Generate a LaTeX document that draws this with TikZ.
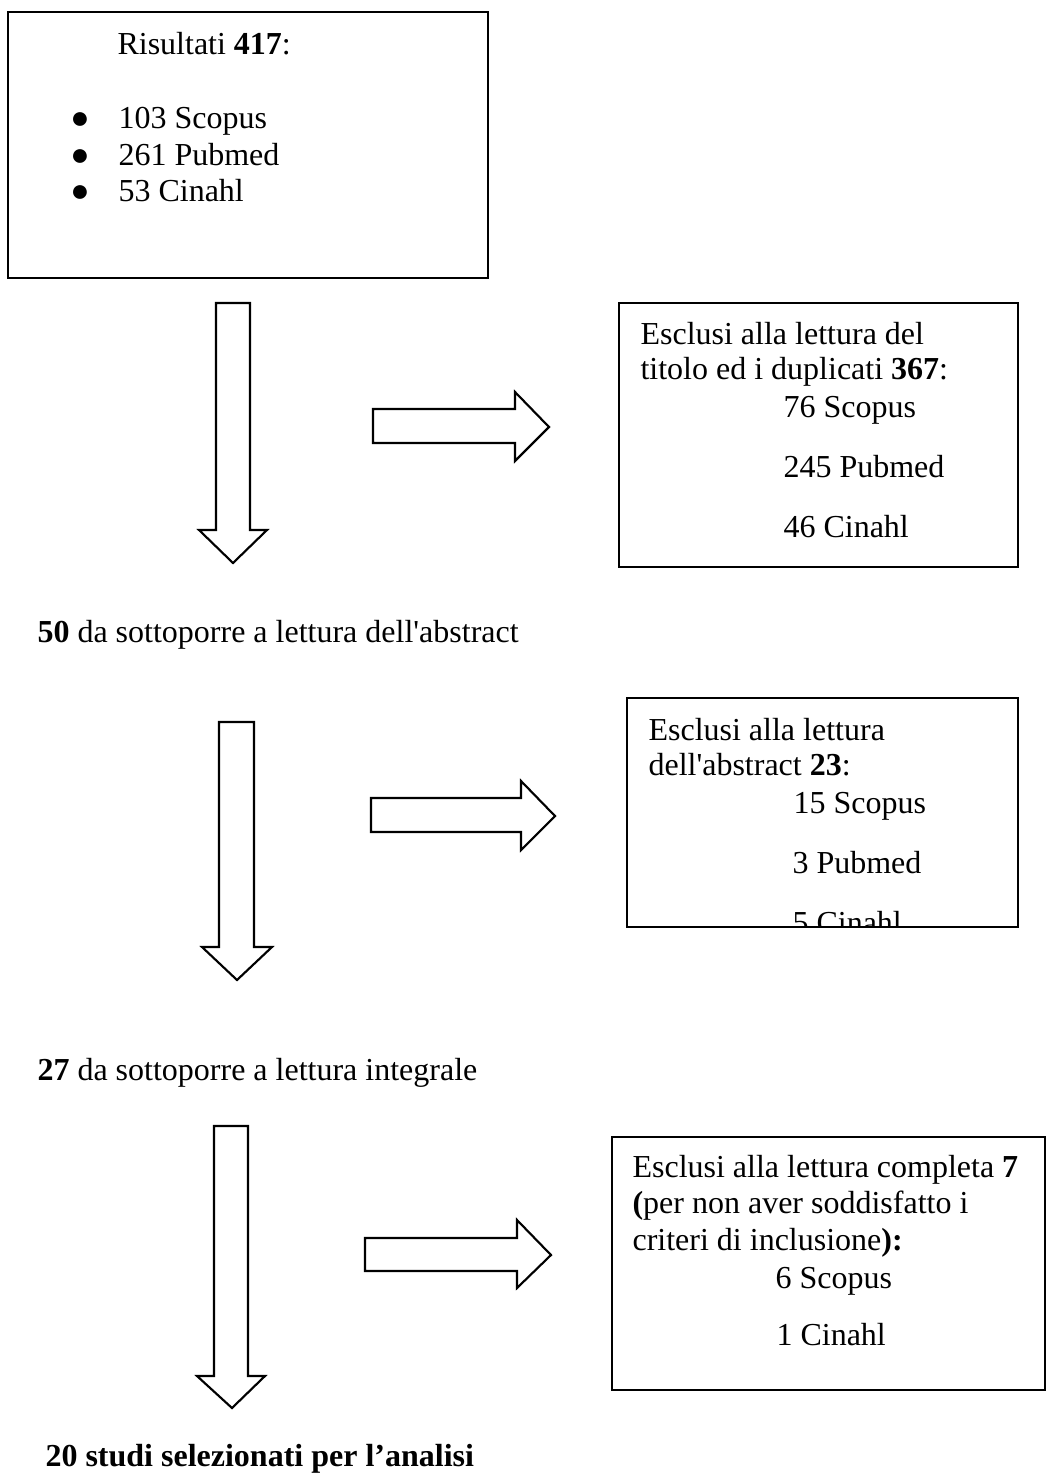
\documentclass[tikz,border=0pt]{standalone}
\usepackage{fontspec}
\setmainfont{Liberation Serif}

\begin{document}
\begin{tikzpicture}[x=0.375pt,y=-0.375pt]

%
% Styles
%
\tikzstyle{txt}        = [anchor=base west,inner sep=0pt,font=\fontsize{12}{14}\selectfont]
\tikzstyle{dot}        = [anchor=base,inner sep=0pt,font=\fontsize{12}{14}\selectfont]
\tikzstyle{box}        = [draw=black,line width=0.6pt]
\tikzstyle{thickbox}   = [draw=black,line width=1.1pt]
\tikzstyle{blockarrow} = [draw=black,line width=0.8pt,fill=white,line join=miter]

\useasboundingbox (0,0) rectangle (1046,1474);

% search results
\draw[thickbox] (8,12) rectangle (488,278);
\node[txt] (ris)  at (117, 55) {Risultati \textbf{417}:};
\node[dot] (b1)   at ( 80,129) {●};
\node[dot] (b2)   at ( 80,166) {●};
\node[dot] (b3)   at ( 80,202) {●};
\node[txt] (sc1)  at (118,129) {103 Scopus};
\node[txt] (pm1)  at (118,166) {261 Pubmed};
\node[txt] (ci1)  at (118,202) {53 Cinahl};

% first step
\draw[blockarrow] (216,303) -- (250,303) -- (250,530) -- (267,530) -- (233,563)
                  -- (199,530) -- (216,530) -- cycle;
\draw[blockarrow] (373,409) -- (515,409) -- (515,392) -- (549,427) -- (515,461)
                  -- (515,443) -- (373,443) -- cycle;
\draw[box] (619,303) rectangle (1018,567);
\node[txt] (ex1a) at (640,345) {Esclusi alla lettura del};
\node[txt] (ex1b) at (640,380) {titolo ed i duplicati \textbf{367}:};
\node[txt] (sc2)  at (783,418) {76 Scopus};
\node[txt] (pm2)  at (783,478) {245 Pubmed};
\node[txt] (ci2)  at (783,538) {46 Cinahl};

\node[txt] (abs)  at (37,643) {\textbf{50} da sottoporre a lettura dell\textquotesingle abstract};

% second step
\draw[blockarrow] (219,722) -- (254,722) -- (254,947) -- (272,947) -- (237,980)
                  -- (202,947) -- (219,947) -- cycle;
\draw[blockarrow] (371,798) -- (521,798) -- (521,781) -- (555,816) -- (521,850)
                  -- (521,832) -- (371,832) -- cycle;
\begin{scope}
  \clip (627,698) rectangle (1018,927);
  \node[txt] (ex2a) at (648,740) {Esclusi alla lettura};
  \node[txt] (ex2b) at (648,775) {dell\textquotesingle abstract \textbf{23}:};
  \node[txt] (sc3)  at (793,813) {15 Scopus};
  \node[txt] (pm3)  at (792,873) {3 Pubmed};
  \node[txt] (ci3)  at (792,933) {5 Cinahl};
\end{scope}
\draw[box] (627,698) rectangle (1018,927);

\node[txt] (integ) at (37,1080) {\textbf{27} da sottoporre a lettura integrale};

% third step
\draw[blockarrow] (214,1126) -- (248,1126) -- (248,1376) -- (265,1376) -- (232,1408)
                  -- (197,1376) -- (214,1376) -- cycle;
\draw[blockarrow] (365,1238) -- (517,1238) -- (517,1220) -- (551,1255) -- (517,1288)
                  -- (517,1271) -- (365,1271) -- cycle;
\draw[box] (612,1137) rectangle (1045,1390);
\node[txt] (ex3a) at (632,1177) {Esclusi alla lettura completa \textbf{7}};
\node[txt] (ex3b) at (632,1213) {\textbf{(}per non aver soddisfatto i};
\node[txt] (ex3c) at (632,1250) {criteri di inclusione\textbf{):}};
\node[txt] (sc4)  at (775,1288) {6 Scopus};
\node[txt] (ci4)  at (776,1345) {1 Cinahl};

\node[txt] (fin) at (45,1466) {\textbf{20 studi selezionati per l’analisi}};

\end{tikzpicture}
\end{document}
